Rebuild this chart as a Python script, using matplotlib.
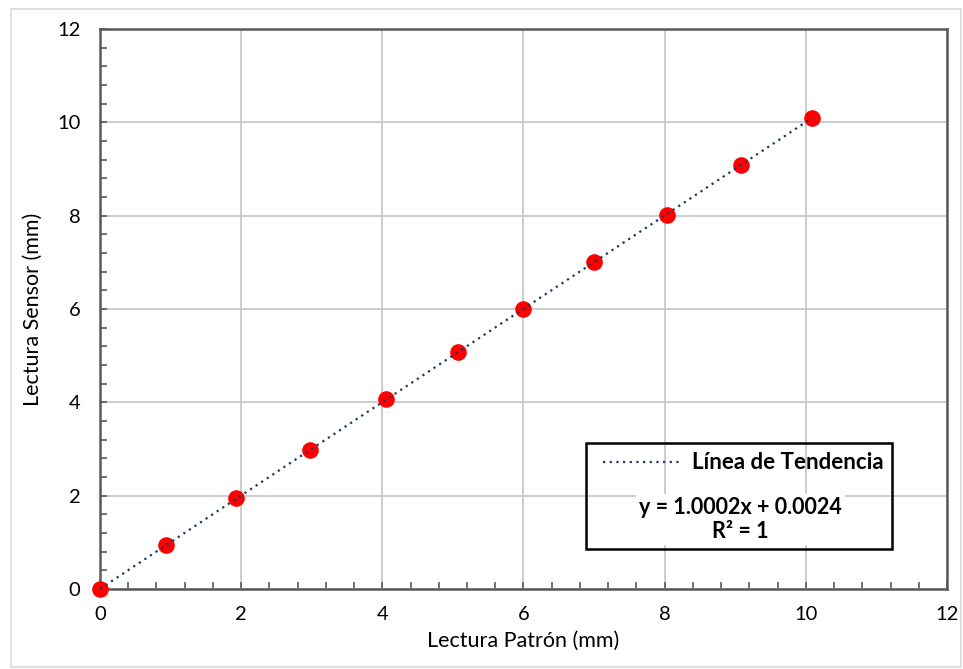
import numpy as np
import matplotlib.pyplot as plt
from matplotlib.patches import Rectangle
from matplotlib.lines import Line2D
from matplotlib.ticker import MultipleLocator

plt.rcParams['font.family'] = ['Lato', 'DejaVu Sans']

patron = [0, 0.93, 1.93, 2.97, 4.05, 5.07, 5.99, 7.0, 8.03, 9.08, 10.09]
sensor = [0, 0.94, 1.95, 2.98, 4.07, 5.08, 6.01, 7.0, 8.02, 9.08, 10.09]
pendiente = 1.0002
intercepto = 0.0024

fig = plt.figure(figsize=(9.63, 6.69), dpi=100)
ax = fig.add_axes([0.1038, 0.1196, 0.8796, 0.8371])

# borde exterior del grafico
fig.patches.append(Rectangle((0.011, 0.003), 0.987, 0.983, transform=fig.transFigure,
                             fill=False, edgecolor='#d9d9d9', linewidth=1.2))

xs = np.array([min(patron), max(patron)])
ax.plot(xs, pendiente * xs + intercepto, linestyle=(0, (1, 2)), color='#1f3864',
        linewidth=1.6, zorder=4)
ax.scatter(patron, sensor, s=120, color='#ff0000', zorder=3, clip_on=False)

ax.set_xlim(0, 12)
ax.set_ylim(0, 12)
ax.xaxis.set_major_locator(MultipleLocator(2))
ax.yaxis.set_major_locator(MultipleLocator(2))
ax.xaxis.set_minor_locator(MultipleLocator(0.4))
ax.yaxis.set_minor_locator(MultipleLocator(0.4))
ax.grid(True, which='major', color='#c8c8c8', linewidth=1.3)
ax.set_axisbelow(True)
ax.tick_params(which='both', direction='in', color='#595959', labelsize=14.5, width=1.2)
ax.tick_params(which='major', length=5)
ax.tick_params(axis='x', which='major', pad=12)
ax.tick_params(axis='y', which='major', pad=14)
ax.tick_params(which='minor', length=5)
for s in ax.spines.values():
    s.set_color('#595959')
    s.set_linewidth(1.8)

ax.set_xlabel('Lectura Patrón (mm)', fontsize=15.5, labelpad=6)
ax.set_ylabel('Lectura Sensor (mm)', fontsize=15.5, labelpad=10)

# caja de leyenda
ax.add_patch(Rectangle((0.574, 0.0714), 0.361, 0.19, transform=ax.transAxes,
                       fill=False, edgecolor='black', linewidth=1.8, zorder=5))
h = Line2D([], [], linestyle=(0, (1, 2)), color='#1f3864', linewidth=1.6)
ax.legend([h], ['Línea de Tendencia'], loc='center', bbox_to_anchor=(0.76, 0.225),
          frameon=False, prop={'weight': 'bold', 'size': 16}, handlelength=3.4,
          handletextpad=0.6)
ax.text(0.756, 0.124, 'y = %.4fx + %.4f\nR² = 1' % (pendiente, intercepto),
        transform=ax.transAxes, ha='center', va='center', fontsize=15.5,
        fontweight='bold', linespacing=1.22,
        bbox=dict(facecolor='white', edgecolor='none', pad=2), zorder=6)

fig.savefig('out.png', dpi=100)
